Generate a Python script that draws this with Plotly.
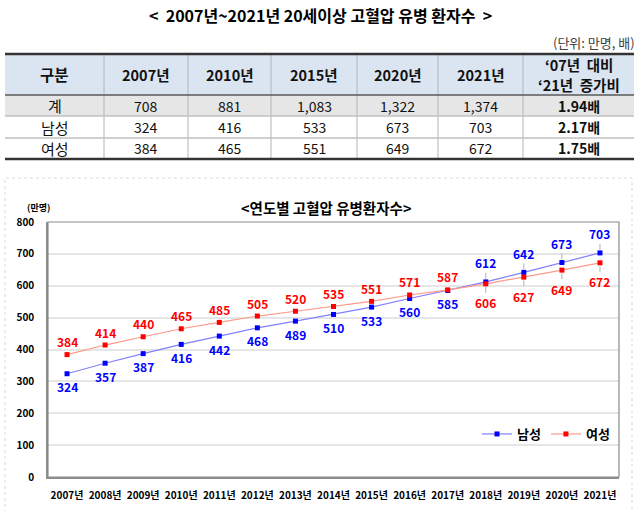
import plotly.graph_objects as go

# --- data ---
years = [f"{y}년" for y in range(2007, 2022)]
male = [324, 357, 387, 416, 442, 468, 489, 510, 533, 560, 585, 612, 642, 673, 703]
female = [384, 414, 440, 465, 485, 505, 520, 535, 551, 571, 587, 606, 627, 649, 672]

table_header = ["구분", "2007년", "2010년", "2015년", "2020년", "2021년"]
ratio_header = ["‘07년  대비", "‘21년  증가비"]
row_names = ["계", "남성", "여성"]
table_rows = [
    [708, 881, 1083, 1322, 1374],
    [324, 416, 533, 673, 703],
    [384, 465, 551, 649, 672],
]
ratio = ["1.94배", "2.17배", "1.75배"]

FONT = "Noto Sans CJK KR"
W, H = 639, 511


def px_x(x):
    return x / W


def px_y(y):
    return 1 - y / H


fig = go.Figure()

# --- line chart ---
fig.add_trace(go.Scatter(
    x=years, y=male, name="<b>남성</b>", mode="lines+markers",
    line=dict(color="#8080ff", width=1.2),
    marker=dict(color="#0000ff", size=5, symbol="square"),
))
fig.add_trace(go.Scatter(
    x=years, y=female, name="<b>여성</b>", mode="lines+markers",
    line=dict(color="#ff9a8a", width=1.2),
    marker=dict(color="#ff0000", size=5, symbol="square"),
))

annotations = []
shapes = []

# data labels
for i, yr in enumerate(years):
    late = i >= 11
    for val, col, up in ((male[i], "#0000ff", late), (female[i], "#ff0000", not late)):
        a = dict(x=yr, y=val, xref="x", yref="y", text=f"<b>{val}</b>",
                 font=dict(family=FONT, size=12, color=col))
        if late:
            a.update(showarrow=True, arrowhead=0, arrowwidth=1, arrowcolor="#b0b0b0",
                     ax=0, ay=-19 if up else 19, standoff=3)
        else:
            a.update(showarrow=False, yshift=13 if up else -13)
        annotations.append(a)

# --- table (drawn with shapes + text) ---
col_x = [5, 104, 188, 271, 357, 438, 523, 634]
row_y = [54, 95, 116, 138, 159]


def cell_rect(c0, c1, r0, r1, fill):
    shapes.append(dict(type="rect", xref="paper", yref="paper", layer="below",
                       x0=px_x(col_x[c0]), x1=px_x(col_x[c1]),
                       y0=px_y(row_y[r1]), y1=px_y(row_y[r0]),
                       fillcolor=fill, line=dict(width=0)))


def hline(y, color, width):
    shapes.append(dict(type="line", xref="paper", yref="paper",
                       x0=px_x(col_x[0]), x1=px_x(col_x[-1]), y0=px_y(y), y1=px_y(y),
                       line=dict(color=color, width=width)))


cell_rect(0, 7, 0, 1, "#dbe5f1")
cell_rect(0, 7, 1, 2, "#e6e6e6")
for cx in col_x[1:-1]:
    shapes.append(dict(type="line", xref="paper", yref="paper",
                       x0=px_x(cx), x1=px_x(cx), y0=px_y(row_y[0]), y1=px_y(row_y[-1]),
                       line=dict(color="#b4b4b4", width=1)))
hline(row_y[2], "#c0c0c0", 1.5)
hline(row_y[3], "#c0c0c0", 1.5)
hline(row_y[1], "#595959", 1.5)
hline(row_y[0], "#333333", 2.5)
hline(row_y[-1], "#333333", 2.5)


def cell_text(c, y, text, size, bold=False):
    annotations.append(dict(
        x=px_x((col_x[c] + col_x[c + 1]) / 2), y=px_y(y),
        xref="paper", yref="paper", showarrow=False, xanchor="center", yanchor="middle",
        text=f"<b>{text}</b>" if bold else text,
        font=dict(family=FONT, size=size, color="#111111"),
        borderpad=0,
    ))


head_mid = (row_y[0] + row_y[1]) / 2
for c, h in enumerate(table_header):
    cell_text(c, head_mid, h, 14.5 if c else 15.5, bold=True)
cell_text(6, head_mid - 10, ratio_header[0], 14.5, bold=True)
cell_text(6, head_mid + 10, ratio_header[1], 14.5, bold=True)
for r, name in enumerate(row_names):
    mid = (row_y[r + 1] + row_y[r + 2]) / 2
    cell_text(0, mid, name, 15)
    for c, v in enumerate(table_rows[r]):
        cell_text(c + 1, mid, f"{v:,}", 14)
    cell_text(6, mid, ratio[r], 14, bold=True)

annotations += [
    dict(x=px_x(320), y=px_y(15), xref="paper", yref="paper", showarrow=False, yanchor="middle",
         text="<b><  2007년~2021년 20세이상 고혈압 유병 환자수  ></b>",
         font=dict(family=FONT, size=16, color="black")),
    dict(x=px_x(637), y=px_y(42), xref="paper", yref="paper", showarrow=False,
         xanchor="right", yanchor="middle",
         text="(단위: 만명, 배)", font=dict(family=FONT, size=13, color="#404040")),
    dict(x=px_x(326), y=px_y(207), xref="paper", yref="paper", showarrow=False, yanchor="middle",
         text="<b><연도별 고혈압 유병환자수></b>", font=dict(family=FONT, size=14.5, color="black")),
    dict(x=px_x(26), y=px_y(207), xref="paper", yref="paper", showarrow=False, yanchor="middle",
         text="<b>(만명)</b>", font=dict(family=FONT, size=9, color="black"), borderpad=0),
]

shapes += [
    # outer chart frame
    dict(type="rect", xref="paper", yref="paper", x0=px_x(5), x1=px_x(632), y0=px_y(530), y1=px_y(178),
         line=dict(color="#d9d9d9", width=1, dash="dot")),
    # plot frame
    dict(type="rect", xref="paper", yref="paper", x0=px_x(48), x1=px_x(619), y0=px_y(477), y1=px_y(222),
         line=dict(color="#8c8c8c", width=1.2)),
]

fig.update_layout(
    width=W, height=H,
    margin=dict(l=0, r=0, t=0, b=0, autoexpand=False),
    paper_bgcolor="white", plot_bgcolor="white",
    font=dict(family=FONT, color="black"),
    annotations=annotations,
    shapes=shapes,
    showlegend=True,
    legend=dict(
        orientation="h", x=px_x(615), xanchor="right", y=px_y(434), yanchor="middle",
        bgcolor="rgba(0,0,0,0)", font=dict(family=FONT, size=13, color="black"),
        itemwidth=30,
    ),
    xaxis=dict(
        domain=[px_x(48), px_x(619)], type="category", range=[-0.5, 14.5],
        showgrid=False, showline=True, linecolor="#8c8c8c", linewidth=1.5,
        tickfont=dict(family=FONT, size=10, color="black"), ticks="",
        ticklabelstandoff=8, tickprefix="<b>", ticksuffix="</b>", automargin=False,
    ),
    yaxis=dict(
        domain=[px_y(477), px_y(222)], range=[0, 800], dtick=100,
        showgrid=True, gridcolor="#e6e6e6", gridwidth=1.5, zeroline=False,
        showline=True, linecolor="#8c8c8c", linewidth=1.5,
        tickfont=dict(family=FONT, size=10, color="black"), ticks="",
        ticklabelstandoff=10, tickprefix="<b>", ticksuffix="</b>", automargin=False,
    ),
)

# page has a default 8px body margin; drop it so the figure fills the window
fig.write_html("out.html", config={"displayModeBar": False},
               post_script="document.body.style.margin = '0px';")
